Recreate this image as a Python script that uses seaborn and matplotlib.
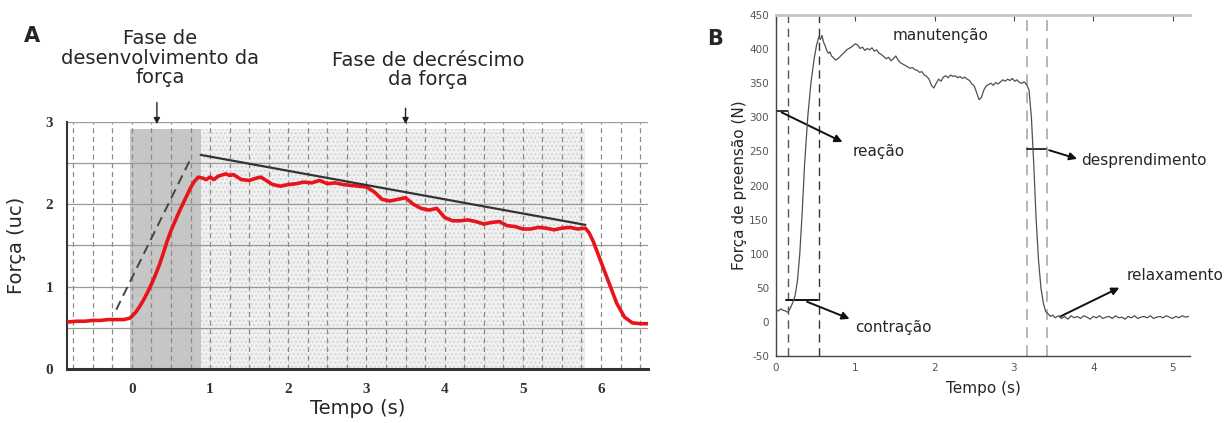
import numpy as np
import pandas as pd
import matplotlib
matplotlib.use("Agg")
import matplotlib.pyplot as plt
import seaborn as sns
from matplotlib.ticker import MultipleLocator

sns.set_style("white")
plt.rcParams['font.family'] = ['DejaVu Sans']
plt.rcParams['axes.unicode_minus'] = False

# ---- panel A: force (uc) over time (s)
tempo_a = [-0.83, -0.7, -0.6, -0.5, -0.4, -0.3, -0.2, -0.1, -0.02, 0.05, 0.1, 0.15, 0.2,
           0.25, 0.3, 0.35, 0.4, 0.45, 0.5, 0.55, 0.6, 0.65, 0.7, 0.75, 0.8, 0.85, 0.9,
           0.95, 1.0, 1.05, 1.1, 1.2, 1.25, 1.3, 1.4, 1.5, 1.6, 1.65, 1.7, 1.8, 1.9, 2.0,
           2.1, 2.2, 2.3, 2.4, 2.5, 2.6, 2.7, 2.8, 2.9, 3.0, 3.1, 3.2, 3.3, 3.4, 3.5, 3.6,
           3.7, 3.8, 3.9, 4.0, 4.1, 4.2, 4.3, 4.4, 4.5, 4.6, 4.7, 4.8, 4.9, 5.0, 5.1, 5.2,
           5.3, 5.4, 5.5, 5.6, 5.7, 5.8, 5.85, 5.9, 6.0, 6.1, 6.2, 6.3, 6.4, 6.5, 6.6]
forca_a = [0.57, 0.58, 0.58, 0.59, 0.59, 0.6, 0.6, 0.6, 0.62, 0.69, 0.76, 0.84, 0.93,
           1.03, 1.14, 1.26, 1.4, 1.55, 1.68, 1.79, 1.9, 2.0, 2.1, 2.2, 2.28, 2.33, 2.32,
           2.3, 2.33, 2.3, 2.34, 2.37, 2.35, 2.36, 2.3, 2.29, 2.32, 2.33, 2.3, 2.24, 2.22,
           2.24, 2.25, 2.27, 2.26, 2.29, 2.25, 2.26, 2.24, 2.23, 2.22, 2.21, 2.15, 2.06,
           2.04, 2.06, 2.08, 2.0, 1.95, 1.93, 1.95, 1.84, 1.8, 1.8, 1.81, 1.79, 1.76, 1.78,
           1.79, 1.74, 1.73, 1.7, 1.7, 1.72, 1.71, 1.69, 1.71, 1.72, 1.7, 1.71, 1.65, 1.55,
           1.3, 1.05, 0.8, 0.63, 0.56, 0.55, 0.55]
tendencia_t = [0.88, 5.8]
tendencia_f = [2.6, 1.75]
rampa_t = [-0.2, 0.75]
rampa_f = [0.72, 2.55]

# ---- panel B: grip force (N) over time (s)
tempo_b = [0.0, 0.03, 0.06, 0.09, 0.12, 0.15, 0.18, 0.21, 0.24, 0.27, 0.3, 0.33, 0.36, 0.4,
           0.44, 0.48, 0.51, 0.54, 0.56, 0.58, 0.6, 0.62, 0.64, 0.66, 0.68, 0.7, 0.72, 0.75,
           0.78, 0.8, 0.83, 0.86, 0.89, 0.92, 0.95, 0.98, 1.0, 1.03, 1.06, 1.09, 1.12, 1.15,
           1.18, 1.21, 1.24, 1.27, 1.3, 1.33, 1.36, 1.39, 1.42, 1.45, 1.48, 1.51, 1.54, 1.57,
           1.6, 1.63, 1.66, 1.69, 1.72, 1.75, 1.78, 1.81, 1.84, 1.87, 1.9, 1.93, 1.96, 1.99,
           2.02, 2.05, 2.08, 2.11, 2.14, 2.17, 2.2, 2.23, 2.26, 2.29, 2.32, 2.35, 2.38, 2.41,
           2.44, 2.47, 2.5, 2.53, 2.56, 2.59, 2.62, 2.65, 2.68, 2.71, 2.74, 2.77, 2.8, 2.83,
           2.86, 2.89, 2.92, 2.95, 2.98, 3.01, 3.04, 3.07, 3.1, 3.13, 3.16, 3.19, 3.22, 3.25,
           3.28, 3.31, 3.34, 3.37, 3.4, 3.43, 3.46, 3.49, 3.52, 3.56, 3.6, 3.64, 3.68, 3.72,
           3.76, 3.8, 3.84, 3.88, 3.92, 3.96, 4.0, 4.04, 4.08, 4.12, 4.16, 4.2, 4.24, 4.28,
           4.32, 4.36, 4.4, 4.44, 4.48, 4.52, 4.56, 4.6, 4.64, 4.68, 4.72, 4.76, 4.8, 4.84,
           4.88, 4.92, 4.96, 5.0, 5.04, 5.08, 5.12, 5.16, 5.2]
forca_b = [18, 16, 19, 17, 16, 14, 20, 28, 38, 60, 100, 160, 230, 300,
           350, 385, 405, 418, 414, 420, 410, 405, 398, 394, 396, 390, 388, 384,
           386, 388, 392, 395, 399, 401, 403, 406, 408, 406, 401, 403, 398, 401,
           399, 402, 397, 399, 394, 392, 389, 386, 388, 383, 386, 390, 384, 380,
           378, 376, 374, 372, 373, 370, 369, 366, 367, 362, 360, 356, 347, 343,
           350, 356, 353, 359, 361, 358, 362, 360, 361, 358, 360, 357, 359, 356,
           354, 349, 346, 336, 326, 329, 340, 346, 348, 350, 347, 351, 349, 352,
           355, 353, 356, 354, 357, 353, 355, 351, 350, 352, 348, 340, 300, 230,
           150, 90, 50, 28, 15, 12, 8, 10, 6, 9, 5, 8, 4, 9,
           6, 8, 5, 9, 7, 4, 8, 6, 9, 5, 7, 8, 5, 9,
           6, 7, 4, 8, 6, 9, 5, 7, 8, 6, 9, 5, 7, 8,
           6, 9, 7, 5, 8, 6, 9, 7, 8]
marcas_b = [0.15, 0.54, 3.17, 3.42]
marcas_cor = ['#555555', '#333333', '#b0b0b0', '#b0b0b0']

df_a = pd.DataFrame({'tempo': tempo_a, 'forca': forca_a})
df_b = pd.DataFrame({'tempo': tempo_b, 'forca': forca_b})

fig = plt.figure(figsize=(12.29, 4.23), dpi=100)
ax1 = fig.add_axes([0.0545, 0.1277, 0.4727, 0.584])
ax2 = fig.add_axes([0.6314, 0.1584, 0.3369, 0.806])

# ---------------- panel A
ax1.set_xlim(-0.83, 6.6)
ax1.set_ylim(0, 3)
ax1.axvspan(0.88, 5.8, ymax=2.92 / 3, facecolor='#f1f1f1', edgecolor='#d6d6d6',
            hatch='....', lw=0, zorder=0)
ax1.axvspan(-0.03, 0.88, ymax=2.92 / 3, color='#c6c6c6', lw=0, zorder=0)
ax1.xaxis.set_minor_locator(MultipleLocator(0.25))
ax1.yaxis.set_minor_locator(MultipleLocator(0.5))
ax1.grid(which='minor', axis='x', color='#8a8a8a', ls=(0, (4, 3)), lw=0.9)
ax1.grid(which='major', axis='x', color='#8a8a8a', ls=(0, (4, 3)), lw=0.9)
ax1.grid(which='both', axis='y', color='#9a9a9a', ls='-', lw=0.9)
ax1.set_axisbelow(True)
sns.lineplot(data=df_a, x='tempo', y='forca', ax=ax1, color='#e8141b', lw=2.6, zorder=4)
ax1.plot(tendencia_t, tendencia_f, color='#333333', lw=1.6, zorder=5)
ax1.plot(rampa_t, rampa_f, color='#444444', lw=1.4, ls=(0, (5, 3)), zorder=5)
ax1.set_xticks([0, 1, 2, 3, 4, 5, 6])
ax1.set_yticks([0, 1, 2, 3])
for lab in ax1.get_xticklabels() + ax1.get_yticklabels():
    lab.set_family('Liberation Serif')
    lab.set_fontweight('bold')
    lab.set_fontsize(11)
    lab.set_color('#333333')
ax1.tick_params(axis='both', which='major', length=4, color='#333333', pad=6)
ax1.tick_params(which='minor', length=0)
for s in ['top', 'right']:
    ax1.spines[s].set_visible(False)
ax1.spines['left'].set_linewidth(1.5)
ax1.spines['left'].set_color('#333333')
ax1.spines['bottom'].set_linewidth(2.2)
ax1.spines['bottom'].set_color('#333333')
ax1.set_xlabel('Tempo (s)', fontsize=14, labelpad=2)
ax1.set_ylabel('Força (uc)', fontsize=14, labelpad=14)

ax1.annotate('', xy=(0.32, 2.94), xytext=(0.32, 3.27), annotation_clip=False,
             arrowprops=dict(arrowstyle='-|>', color='#222222', lw=1, mutation_scale=9))
ax1.annotate('', xy=(3.5, 2.94), xytext=(3.5, 3.2), annotation_clip=False,
             arrowprops=dict(arrowstyle='-|>', color='#222222', lw=1, mutation_scale=9))
fig.text(160 / 1229, 1 - 58 / 423, 'Fase de\ndesenvolvimento da\nforça', ha='center',
         va='center', fontsize=14, linespacing=1.05)
fig.text(428 / 1229, 1 - 70 / 423, 'Fase de decréscimo\nda força', ha='center',
         va='center', fontsize=14, linespacing=1.05)
fig.text(32 / 1229, 1 - 36 / 423, 'A', ha='center', va='center', fontsize=15,
         fontweight='bold')

# ---------------- panel B
ax2.set_xlim(0, 5.22)
ax2.set_ylim(-50, 450)
sns.lineplot(data=df_b, x='tempo', y='forca', ax=ax2, color='#505050', lw=0.9, zorder=4)
for xm, cm in zip(marcas_b, marcas_cor):
    ax2.axvline(xm, color=cm, ls=(0, (6, 4)), lw=1.3 if cm == '#b0b0b0' else 1.0, zorder=2)
ax2.set_xticks([0, 1, 2, 3, 4, 5])
ax2.set_yticks(range(-50, 451, 50))
ax2.tick_params(axis='both', direction='in', length=4, labelsize=7.5, labelcolor='#555555',
                color='#444444', top=True, pad=5)
for s in ['left', 'bottom']:
    ax2.spines[s].set_color('#444444')
    ax2.spines[s].set_linewidth(1.0)
ax2.spines['top'].set_color('#c4c4c4')
ax2.spines['top'].set_linewidth(2.0)
ax2.spines['right'].set_visible(False)
ax2.set_xlabel('Tempo (s)', fontsize=11, labelpad=6)
ax2.set_ylabel('Força de preensão (N)', fontsize=11, labelpad=2)

seta = dict(arrowstyle='-|>', color='#111111', lw=1.4, mutation_scale=11)
ax2.plot([0, 0.15], [310, 310], color='#111111', lw=1.2)
ax2.annotate('', xy=(0.87, 262), xytext=(0.04, 309), arrowprops=seta)
ax2.text(0.96, 250, 'reação', fontsize=11, va='center')
ax2.plot([0.13, 0.53], [32, 32], color='#111111', lw=1.4)
ax2.annotate('', xy=(0.96, 3), xytext=(0.36, 31), arrowprops=seta)
ax2.text(1.0, -8, 'contração', fontsize=11, va='center')
ax2.plot([3.17, 3.41], [254, 254], color='#111111', lw=1.2)
ax2.annotate('', xy=(3.83, 238), xytext=(3.41, 253), arrowprops=seta)
ax2.text(3.85, 237, 'desprendimento', fontsize=11, va='center')
ax2.annotate('', xy=(4.36, 52), xytext=(3.55, 6), arrowprops=seta)
ax2.text(4.42, 68, 'relaxamento', fontsize=11, va='center')
ax2.text(2.07, 420, 'manutenção', fontsize=11, va='center', ha='center')
fig.text(715 / 1229, 1 - 39 / 423, 'B', ha='center', va='center', fontsize=15,
         fontweight='bold')

fig.savefig('out.png', dpi=100)
